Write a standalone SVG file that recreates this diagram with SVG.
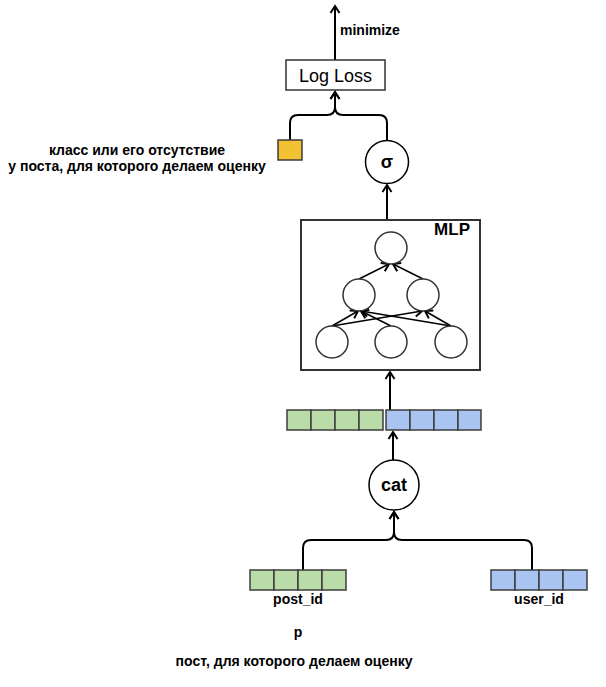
<svg xmlns="http://www.w3.org/2000/svg" width="606" height="687" viewBox="0 0 606 687">
<defs>
<marker id="arr" markerUnits="userSpaceOnUse" markerWidth="12" markerHeight="12" viewBox="0 0 12 12" refX="10" refY="6" orient="auto">
<path d="M3,1.5 L10,6 L3,10.5" fill="none" stroke="#000" stroke-width="2"/>
</marker>
</defs>
<style>
text{font-family:"Liberation Sans",Arial,sans-serif;fill:#000}
.b{font-weight:bold;font-size:14px}
.c{fill:#fff;stroke:#333;stroke-width:1.5}
.n{fill:#fff;stroke:#000;stroke-width:1.5}
.g{fill:#b9dca8;stroke:#3c3c3c;stroke-width:1.5}
.u{fill:#a9c4f0;stroke:#3c3c3c;stroke-width:1.5}
.l{fill:none;stroke:#000;stroke-width:2;marker-end:url(#arr)}
.m{fill:none;stroke:#000;stroke-width:1.5;marker-end:url(#arr)}
</style>
<rect width="606" height="687" fill="#fff"/>
<g id="connectors">
<path class="l" d="M335,60 L335,6"/>
<path class="l" d="M290,140 L290,123 Q290,115 298,115 L327,115 Q335,115 335,107 L335,92"/>
<path class="l" d="M387,140 L387,123 Q387,115 379,115 L343,115 Q335,115 335,107 L335,92"/>
<path class="l" d="M387,220 L387,185"/>
<path class="l" d="M390,410 L390,372"/>
<path class="l" d="M393,460 L393,432"/>
<path class="l" d="M303,570 L303,548 Q303,540 311,540 L386,540 Q394,540 394,532 L394,512"/>
<path class="l" d="M532,570 L532,548 Q532,540 524,540 L402,540 Q394,540 394,532 L394,512"/>
</g>
<g id="minimize-label"><text class="b" x="340" y="35">minimize</text></g>
<g id="logloss">
<rect x="286" y="60" width="99" height="30" class="c"/>
<text x="335.5" y="81.5" font-size="18" text-anchor="middle">Log Loss</text>
</g>
<g id="target">
<rect x="278" y="140" width="24" height="20" fill="#f2c232" stroke="#3c3c3c" stroke-width="1.5"/>
</g>
<g id="target-label">
<text class="b" x="137" y="155" text-anchor="middle">класс или его отсутствие</text>
<text class="b" x="137" y="171" text-anchor="middle">у поста, для которого делаем оценку</text>
</g>
<g id="sigma">
<circle cx="387" cy="162" r="21.5" class="n"/>
<text x="387" y="168" font-size="18" font-weight="bold" text-anchor="middle">σ</text>
</g>
<g id="mlp">
<rect x="301" y="220" width="179" height="150" fill="#fff" stroke="#333" stroke-width="2"/>
<text x="470" y="235" font-size="17" font-weight="bold" text-anchor="end">MLP</text>
<path class="m" d="M332,326 L358,311"/>
<path class="m" d="M332,326 L422,311"/>
<path class="m" d="M391,326 L361,311"/>
<path class="m" d="M451,326 L361,311"/>
<path class="m" d="M451,326 L425,311"/>
<path class="m" d="M359,279 L389,264"/>
<path class="m" d="M423,279 L393,264"/>
<circle cx="391" cy="248" r="16" class="c"/>
<circle cx="359" cy="295" r="16" class="c"/>
<circle cx="423" cy="295" r="16" class="c"/>
<circle cx="332" cy="342" r="16" class="c"/>
<circle cx="391" cy="342" r="16" class="c"/>
<circle cx="451" cy="342" r="16" class="c"/>
</g>
<g id="concat-vector">
<rect x="287" y="410" width="24" height="20" class="g"/>
<rect x="311" y="410" width="24" height="20" class="g"/>
<rect x="335" y="410" width="24" height="20" class="g"/>
<rect x="359" y="410" width="24" height="20" class="g"/>
<rect x="386" y="410" width="24" height="20" class="u"/>
<rect x="410" y="410" width="24" height="20" class="u"/>
<rect x="434" y="410" width="24" height="20" class="u"/>
<rect x="458" y="410" width="23" height="20" class="u"/>
</g>
<g id="cat">
<circle cx="394" cy="485" r="25" class="n"/>
<text x="394" y="491" font-size="18" font-weight="bold" text-anchor="middle">cat</text>
</g>
<g id="post-vector">
<rect x="250" y="570" width="24" height="20" class="g"/>
<rect x="274" y="570" width="24" height="20" class="g"/>
<rect x="298" y="570" width="24" height="20" class="g"/>
<rect x="322" y="570" width="24" height="20" class="g"/>
<text class="b" x="298" y="604" text-anchor="middle">post_id</text>
</g>
<g id="user-vector">
<rect x="491" y="570" width="24" height="20" class="u"/>
<rect x="515" y="570" width="24" height="20" class="u"/>
<rect x="539" y="570" width="24" height="20" class="u"/>
<rect x="563" y="570" width="24" height="20" class="u"/>
<text class="b" x="539" y="604" text-anchor="middle">user_id</text>
</g>
<g id="post-label">
<text class="b" x="298" y="637" text-anchor="middle">p</text>
<text class="b" x="294" y="666" text-anchor="middle">пост, для которого делаем оценку</text>
</g>
</svg>
